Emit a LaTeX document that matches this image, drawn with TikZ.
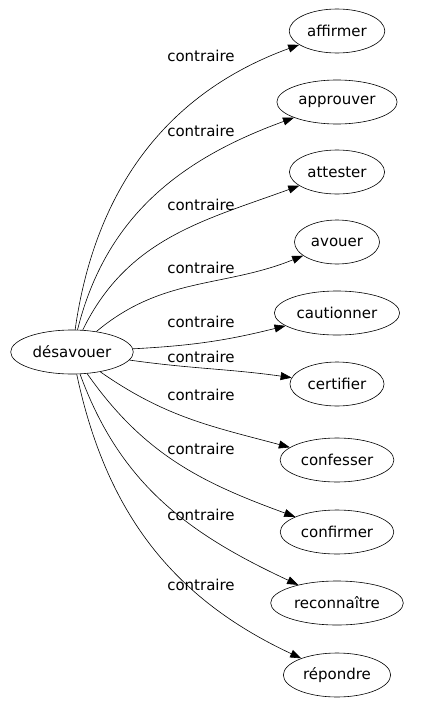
\documentclass[tikz,border=0pt]{standalone}
\usepackage{fontspec}
\setmainfont{DejaVu Sans}
\usetikzlibrary{arrows.meta,shapes.geometric}

\begin{document}
\begin{tikzpicture}[
  x=1pt, y=-1pt,
  word/.style={draw, ellipse, line width=0.6pt, inner xsep=4pt, minimum height=44pt,
    font=\fontsize{15}{18}\selectfont},
  rel/.style={inner sep=0pt, font=\fontsize{15}{18}\selectfont},
  arrow/.style={-{Triangle[length=11pt, width=8pt]}, line width=0.6pt}
]
\useasboundingbox (0,0) rectangle (422,707);

% words
\node[word] (desavouer) at (72,352) {désavouer};
\node[word] (affirmer) at (337,31) {affirmer};
\node[word] (approuver) at (337,102) {approuver};
\node[word] (attester) at (337,172) {attester};
\node[word] (avouer) at (337,242) {avouer};
\node[word] (cautionner) at (337,313) {cautionner};
\node[word] (certifier) at (337,384) {certifier};
\node[word] (confesser) at (337,460) {confesser};
\node[word] (confirmer) at (337,532) {confirmer};
\node[word] (reconnaitre) at (337,603) {reconnaître};
\node[word] (repondre) at (337,675) {répondre};

% relation labels
\node[rel] (rel1) at (201,56) {contraire};
\node[rel] (rel2) at (201,131) {contraire};
\node[rel] (rel3) at (201,205) {contraire};
\node[rel] (rel4) at (201,268) {contraire};
\node[rel] (rel5) at (201,322) {contraire};
\node[rel] (rel6) at (201,357) {contraire};
\node[rel] (rel7) at (201,395) {contraire};
\node[rel] (rel8) at (201,449) {contraire};
\node[rel] (rel9) at (201,515) {contraire};
\node[rel] (rel10) at (201,585) {contraire};

% edges
\draw[arrow] (desavouer) to[out=82, in=200] (affirmer);
\draw[arrow] (desavouer) to[out=76, in=200] (approuver);
\draw[arrow] (desavouer) to[out=64, in=200] (attester);
\draw[arrow] (desavouer) to[out=40, in=202] (avouer);
\draw[arrow] (desavouer) to[out=3, in=194] (cautionner);
\draw[arrow] (desavouer) to[out=-8, in=172] (certifier);
\draw[arrow] (desavouer) to[out=-35, in=165] (confesser);
\draw[arrow] (desavouer) to[out=-55, in=160] (confirmer);
\draw[arrow] (desavouer) to[out=-70, in=155] (reconnaitre);
\draw[arrow] (desavouer) to[out=-78, in=155] (repondre);
\end{tikzpicture}
\end{document}
